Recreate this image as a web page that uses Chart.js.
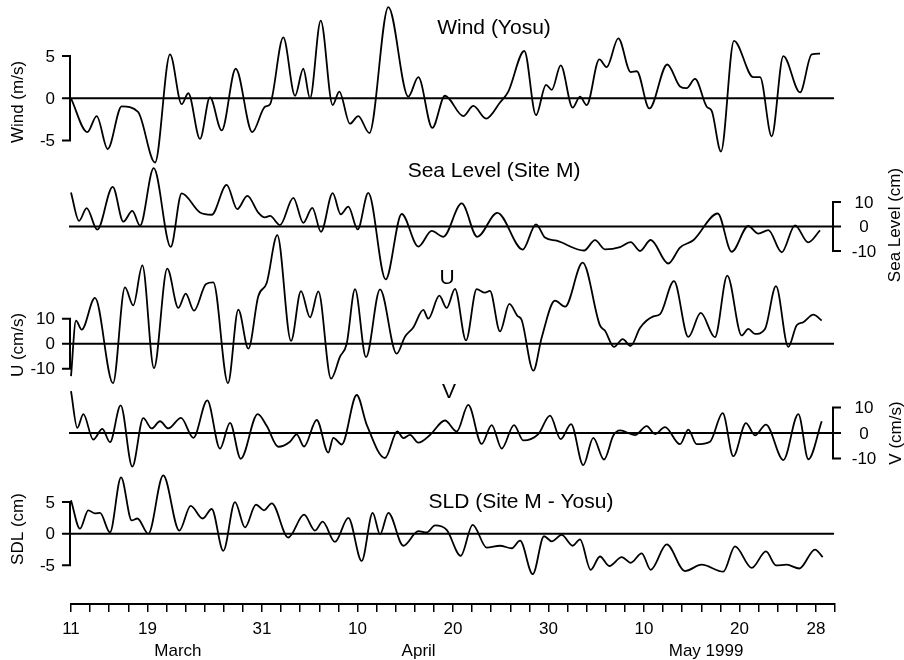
<!DOCTYPE html>
<html>
<head>
<meta charset="utf-8">
<title>Wind, sea level, currents and SLD, March-May 1999</title>
<script src="https://cdn.jsdelivr.net/npm/chart.js@4.4.0/dist/chart.umd.min.js"></script>
<style>
  html, body { margin: 0; padding: 0; background: #fff; }
  canvas { display: block; }
</style>
</head>
<body>
<canvas id="seriesChart" width="904" height="660"></canvas>
<script>
// Time is counted in days from 11 March 1999
const windDay = [0,1.71,2.69,3.84,5.31,7.02,8.80,10.37,11.59,12.28,13.51,14.55,15.78,17.25,18.98,20.31,20.84,22.23,23.46,24.32,25.03,26.15,27.40,28.09,29.21,30.08,31.24,33.23,35.32,36.37,37.83,39.16,41.08,42.13,43.46,44.92,45.79,47.47,48.69,49.74,50.34,51.28,52.53,53.30,54.00,55.32,56.09,57.31,58.61,59.24,60.56,62.44,63.77,64.47,65.34,66.57,67.09,68.06,69.42,71.45,72.15,73.37,74.59,76.34,77.56,78.43];
const windSpeed = [0,-4.0,-2.1,-6.0,-0.95,-1.6,-7.6,5.2,-0.7,0.6,-4.8,0.1,-3.8,3.5,-4.0,-1.0,-0.7,7.2,0.3,3.5,0.0,9.2,-0.8,0.8,-3.0,-2.1,-4.1,10.8,0.2,2.5,-3.5,0.3,-2.1,-0.9,-2.4,-0.5,0.8,5.6,-2.0,1.6,1.0,3.9,-1.1,0.2,-0.8,4.6,3.7,7.1,3.1,3.2,-1.2,4.0,1.4,1.2,2.3,-1.0,-1.5,-6.3,6.8,2.5,2.5,-4.5,5.0,0.7,5.2,5.3];

const seaDay = [0,0.84,1.64,2.75,4.37,5.48,6.42,7.23,8.66,10.44,11.59,13.51,14.73,16.30,17.41,18.46,19.61,20.31,20.84,21.88,23.28,24.32,25.27,26.18,27.40,28.24,29.04,30.02,31.13,32.95,34.63,36.37,37.77,38.98,40.91,42.54,44.64,47.30,48.69,49.63,50.86,53.72,54.87,55.92,57.49,58.61,59.58,60.70,62.54,63.77,65.16,67.72,69.18,70.92,71.97,73.02,74.42,75.81,77.20,78.43];
const seaLevel = [13.9,2.3,7.5,-1.3,16.2,2.0,6.4,0.3,23.8,-8.3,13.5,5.7,4.8,17.0,7.1,12.5,5.7,3.7,4.3,0.6,11.7,1.5,7.6,-2.2,13.6,5.0,8.1,-1.2,13.7,-21.6,5.1,-8.2,-1.8,-4.2,9.4,-4.2,5.6,-9.4,0.9,-4.5,-5.8,-9.8,-5.6,-9.3,-8.4,-6.4,-10.0,-5.5,-15.1,-8.6,-5.6,5.3,-10.3,0.2,-2.9,-1.5,-10.5,0.5,-6.5,-1.6];

const uDay = [0,0.52,1.12,2.51,4.40,5.65,6.52,7.47,8.69,10.08,11.24,12.01,12.88,14.14,14.90,16.44,17.52,18.57,19.61,20.49,21.60,23.04,24.08,25.03,25.90,27.23,28.17,28.87,29.74,30.89,32.36,34.10,34.97,35.84,36.89,37.41,38.57,39.34,40.21,41.36,42.48,43.35,43.87,44.92,45.90,46.73,47.19,48.41,49.29,50.68,51.73,53.58,55.39,55.92,56.86,57.77,58.61,59.58,60.98,61.68,63.14,64.64,65.94,67.43,68.72,70.23,70.92,71.62,72.67,73.82,75.11,75.99,76.68,77.73,78.61];
const uVel = [-13,9.2,5.6,18.3,-15.8,22.5,15.3,31.3,-9.8,30.0,14.3,20.0,13.2,23.9,24.5,-15.8,13.6,-2.0,19.0,24.3,43.4,1.1,21.0,10.5,20.9,-14.0,-5.2,0,21.8,-5.4,21.7,-4.0,2.8,6.5,13.5,10.0,19.2,14.3,21.9,1.3,21.8,20.4,21.1,4.9,15.9,11.2,9.5,-10.8,2.5,17.2,14.8,32.4,7.3,5.2,-1.3,1.8,-0.9,6.3,10.9,11.8,25.0,2.7,12.3,2.6,27.2,3.3,5.9,3.9,5.9,23.0,-1.3,7.4,8.6,11.6,9.3];

const vDay = [0,0.66,1.29,2.33,3.28,4.08,5.20,6.42,7.57,8.45,9.32,10.19,11.52,12.81,14.27,15.60,16.65,17.77,19.55,20.49,21.71,22.93,23.63,24.40,25.73,26.94,27.47,28.35,29.92,30.96,32.88,34.17,34.80,35.50,36.37,37.59,39.16,40.39,41.60,43.00,44.05,45.10,46.39,47.36,48.93,50.16,51.28,52.36,53.64,54.69,55.81,56.79,57.49,59.06,60.28,61.15,62.20,63.77,64.64,65.52,66.91,68.24,69.35,70.68,71.62,72.77,74.59,76.16,77.21,78.61];
const vVel = [16.4,2.0,7.4,-2.6,1.6,-3.6,10.8,-13.2,5.8,1.8,4.6,1.8,5.9,-1.9,12.8,-6.1,4.0,-10.1,7.4,2.8,-5.4,-3.4,-0.5,-5.3,5.1,-7.7,-1.9,-4.5,14.9,3.3,-9.8,0.6,-2.0,-0.7,-3.8,-0.8,4.9,0.6,11.0,-4.3,3.1,-6.1,3.1,-2.9,-0.4,6.8,-2.4,3.5,-12.6,-1.9,-10.4,-1.0,1.0,-0.8,2.7,-0.4,2.3,-4.4,1.3,-4.4,-3.4,7.8,-9.1,3.9,-0.9,3.3,-10.6,7.4,-10.3,4.6];

const sldDay = [0,0.94,1.81,2.51,3.04,4.08,5.24,6.36,6.95,8.10,9.66,11.34,12.53,13.79,14.73,15.95,17.17,18.22,19.37,20.21,21.02,22.75,24.40,25.55,26.35,27.64,29.04,30.44,31.59,32.36,33.23,34.80,36.37,37.25,38.12,39.34,40.81,42.06,43.53,44.92,46.15,47.02,48.35,49.53,50.34,51.38,52.53,53.30,54.42,55.39,56.37,57.67,58.61,59.76,60.70,62.38,64.29,66.04,68.30,69.53,71.28,72.77,73.82,74.94,76.26,77.91,78.71];
const sldDiff = [5.3,0.8,3.7,3.2,3.3,0.2,8.9,2.1,2.4,0.0,9.2,0.5,4.4,2.4,3.9,-2.7,5.0,1.0,4.6,3.7,4.8,-0.6,3.0,0.5,1.9,-1.3,2.5,-4.3,3.3,-0.1,3.3,-1.9,0.4,0.2,1.3,0.6,-3.5,1.4,-2.2,-1.9,-2.3,-1.1,-6.4,-0.4,-1.2,-0.2,-1.9,-0.9,-5.7,-3.6,-5.1,-3.7,-4.6,-3.1,-5.7,-1.7,-5.9,-4.9,-6.0,-2.0,-5.4,-2.8,-5.0,-4.9,-5.5,-2.5,-3.7];

// axis ticks
const windTicks = [5, 0, -5];
const seaTicks = [10, 0, -10];
const uTicks = [10, 0, -10];
const vTicks = [10, 0, -10];
const sldTicks = [5, 0, -5];

const dateTickDays = [0, 8, 20, 30, 40, 50, 60, 70, 78];
const dateTickLabels = ['11', '19', '31', '10', '20', '30', '10', '20', '28'];
const monthNames = ['March', 'April', 'May 1999'];
const monthCentres = [11.2, 36.4, 66.5];

const FONT = '"Liberation Sans", Arial, Helvetica, sans-serif';
const CANVAS_H = 660;
const AREA_TOP = 0;
const AREA_BOTTOM = 604;

// where each strip sits on the canvas
const panels = [
  { id: 'yWind', title: 'Wind (Yosu)', tx: 494, ty: 27, axisTitle: 'Wind (m/s)', ax: 18, ay: 102,
    side: 'left', zeroPx: 98.3, pxPerUnit: 8.45, ticks: windTicks, day: windDay, vals: windSpeed },
  { id: 'ySea', title: 'Sea Level (Site M)', tx: 494, ty: 170, axisTitle: 'Sea Level (cm)', ax: 895, ay: 225,
    side: 'right', zeroPx: 226.5, pxPerUnit: 2.45, ticks: seaTicks, day: seaDay, vals: seaLevel },
  { id: 'yU', title: 'U', tx: 447, ty: 277, axisTitle: 'U (cm/s)', ax: 18, ay: 345,
    side: 'left', zeroPx: 343.7, pxPerUnit: 2.5, ticks: uTicks, day: uDay, vals: uVel },
  { id: 'yV', title: 'V', tx: 449, ty: 391, axisTitle: 'V (cm/s)', ax: 896, ay: 433,
    side: 'right', zeroPx: 433, pxPerUnit: 2.55, ticks: vTicks, day: vDay, vals: vVel },
  { id: 'ySld', title: 'SLD (Site M - Yosu)', tx: 521, ty: 501, axisTitle: 'SDL (cm)', ax: 18, ay: 529,
    side: 'left', zeroPx: 533.7, pxPerUnit: 6.33, ticks: sldTicks, day: sldDay, vals: sldDiff }
];

// every strip uses the full plot height; min/max put its zero line where it belongs
function yScaleFor(p) {
  return {
    type: 'linear',
    display: false,
    max: (p.zeroPx - AREA_TOP) / p.pxPerUnit,
    min: -(AREA_BOTTOM - p.zeroPx) / p.pxPerUnit
  };
}

const panelDecor = {
  id: 'panelDecor',
  afterDraw(chart) {
    const ctx = chart.ctx;
    const area = chart.chartArea;
    ctx.save();
    ctx.strokeStyle = '#000';
    ctx.fillStyle = '#000';
    ctx.lineCap = 'square';

    panels.forEach(p => {
      const s = chart.scales[p.id];
      const y0 = s.getPixelForValue(0);

      // zero line
      ctx.lineWidth = 2;
      ctx.beginPath();
      ctx.moveTo(area.left - 1, y0);
      ctx.lineTo(area.right - 2, y0);
      ctx.stroke();

      // bracket axis
      const bx = p.side === 'left' ? area.left - 1 : area.right - 2;
      const dir = p.side === 'left' ? -1 : 1;
      ctx.beginPath();
      ctx.moveTo(bx, s.getPixelForValue(p.ticks[0]));
      ctx.lineTo(bx, s.getPixelForValue(p.ticks[p.ticks.length - 1]));
      p.ticks.forEach(t => {
        const y = s.getPixelForValue(t);
        ctx.moveTo(bx, y);
        ctx.lineTo(bx + dir * 7, y);
      });
      ctx.stroke();

      ctx.font = '17px ' + FONT;
      ctx.textBaseline = 'middle';
      ctx.textAlign = p.side === 'left' ? 'right' : 'center';
      const lx = p.side === 'left' ? bx - 15 : bx + 31;
      p.ticks.forEach(t => ctx.fillText(String(t), lx, s.getPixelForValue(t) + 1));

      // rotated axis title
      ctx.save();
      ctx.translate(p.ax, p.ay);
      ctx.rotate(-Math.PI / 2);
      ctx.textAlign = 'center';
      ctx.fillText(p.axisTitle, 0, 0);
      ctx.restore();

      // strip title
      ctx.font = '21px ' + FONT;
      ctx.textAlign = 'center';
      ctx.fillText(p.title, p.tx, p.ty + 1);
    });

    // month names under the date ticks
    const xs = chart.scales.x;
    ctx.font = '17px ' + FONT;
    ctx.textAlign = 'center';
    monthNames.forEach((m, i) => ctx.fillText(m, xs.getPixelForValue(monthCentres[i]), 651));
    ctx.restore();
  }
};

const scales = {
  x: {
    type: 'linear',
    min: 0,
    max: 80,
    // fixed height so the plot area ends at AREA_BOTTOM
    afterFit: scale => { scale.height = CANVAS_H - AREA_BOTTOM; },
    afterBuildTicks: scale => {
      scale.ticks = Array.from({ length: 41 }, (_, i) => ({ value: i * 2 }));
    },
    grid: { drawOnChartArea: false, drawTicks: true, tickLength: 8, color: '#000', lineWidth: 1.5 },
    border: { display: true, color: '#000', width: 2 },
    ticks: {
      autoSkip: false,
      maxRotation: 0,
      padding: 7,
      color: '#000',
      font: { family: FONT, size: 17 },
      callback: value => {
        const i = dateTickDays.indexOf(value);
        return i >= 0 ? dateTickLabels[i] : '';
      }
    }
  }
};
panels.forEach(p => { scales[p.id] = yScaleFor(p); });

new Chart(document.getElementById('seriesChart'), {
  type: 'line',
  data: {
    datasets: panels.map(p => ({
      label: p.title,
      yAxisID: p.id,
      data: p.day.map((d, i) => ({ x: d, y: p.vals[i] })),
      borderColor: '#000',
      borderWidth: 1.8,
      pointRadius: 0,
      fill: false,
      cubicInterpolationMode: 'monotone',
      clip: false
    }))
  },
  options: {
    responsive: false,
    animation: false,
    layout: { padding: { left: 71, right: 69, top: AREA_TOP, bottom: 0 } },
    plugins: { legend: { display: false }, tooltip: { enabled: false } },
    scales: scales
  },
  plugins: [panelDecor]
});
</script>
</body>
</html>
